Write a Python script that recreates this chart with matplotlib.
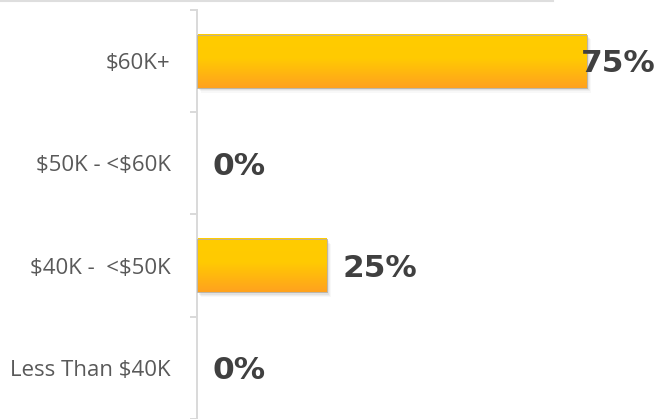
"""Horizontal bar chart of income bands with gradient bars."""

import numpy as np
import matplotlib
matplotlib.use("Agg")
import matplotlib.pyplot as plt
from matplotlib.colors import LinearSegmentedColormap
from matplotlib.lines import Line2D
from matplotlib.patches import Rectangle

plt.rcParams["text.parse_math"] = False

categories = ["Less Than $40K", "$40K -  <$50K", "$50K - <$60K", "$60K+"]
values = [0, 25, 0, 75]
labels = ["0%", "25%", "0%", "75%"]

fig = plt.figure(figsize=(6.57, 4.19), dpi=100)
ax = fig.add_axes([197 / 657, 0.0, 460 / 657, 409 / 419])

xmax = 88.5
bar_h = 0.52
grad = LinearSegmentedColormap.from_list(
    "bar", [(0, "#FFCC00"), (0.45, "#FFCA02"), (1, "#FFA21E")])
shade = np.linspace(0, 1, 64).reshape(-1, 1)

for i, v in enumerate(values):
    if v > 0:
        # soft drop shadow
        for k, a in enumerate([0.10, 0.08, 0.06, 0.04]):
            d = 0.25 + 0.25 * k
            ax.add_patch(Rectangle((d * 0.8, i - bar_h / 2 - 0.012 * (k + 1)),
                                   v, bar_h, color="#555555", alpha=a,
                                   lw=0, zorder=1))
        ax.imshow(shade, cmap=grad, aspect="auto", zorder=2,
                  extent=[0, v, i - bar_h / 2, i + bar_h / 2], origin="upper")
        ax.add_patch(Rectangle((0, i - bar_h / 2), v, bar_h, fill=False,
                               edgecolor="#b8b0a0", lw=0.6, zorder=3))
    if v > xmax * 0.75:
        ax.annotate(labels[i], xy=(xmax, i), xytext=(-1, -2),
                    textcoords="offset points", ha="right", va="center",
                    fontsize=22.5, fontweight="bold", color="#404040", zorder=4)
    else:
        ax.annotate(labels[i], xy=(v, i), xytext=(11, -2),
                    textcoords="offset points", ha="left", va="center",
                    fontsize=22.5, fontweight="bold", color="#404040", zorder=4)

ax.set_xlim(0, xmax)
ax.set_ylim(-0.5, 3.5)

ax.set_yticks(range(len(categories)))
ax.set_yticklabels(categories, family="Open Sans", fontsize=16, color="#595959")
ax.set_yticks(np.arange(-0.5, 4, 1), minor=True)
ax.tick_params(axis="y", which="major", length=0, pad=19)
ax.tick_params(axis="y", which="minor", length=5, width=1.4, color="#d9d9d9")
ax.set_xticks([])

for s in ["top", "right", "bottom"]:
    ax.spines[s].set_visible(False)
ax.spines["left"].set_color("#d9d9d9")
ax.spines["left"].set_linewidth(1.4)

fig.add_artist(Line2D([0, 553 / 657], [1 - 1.5 / 419] * 2,
                      color="#dedede", lw=1.5, transform=fig.transFigure))

fig.savefig("out.png", dpi=100)
